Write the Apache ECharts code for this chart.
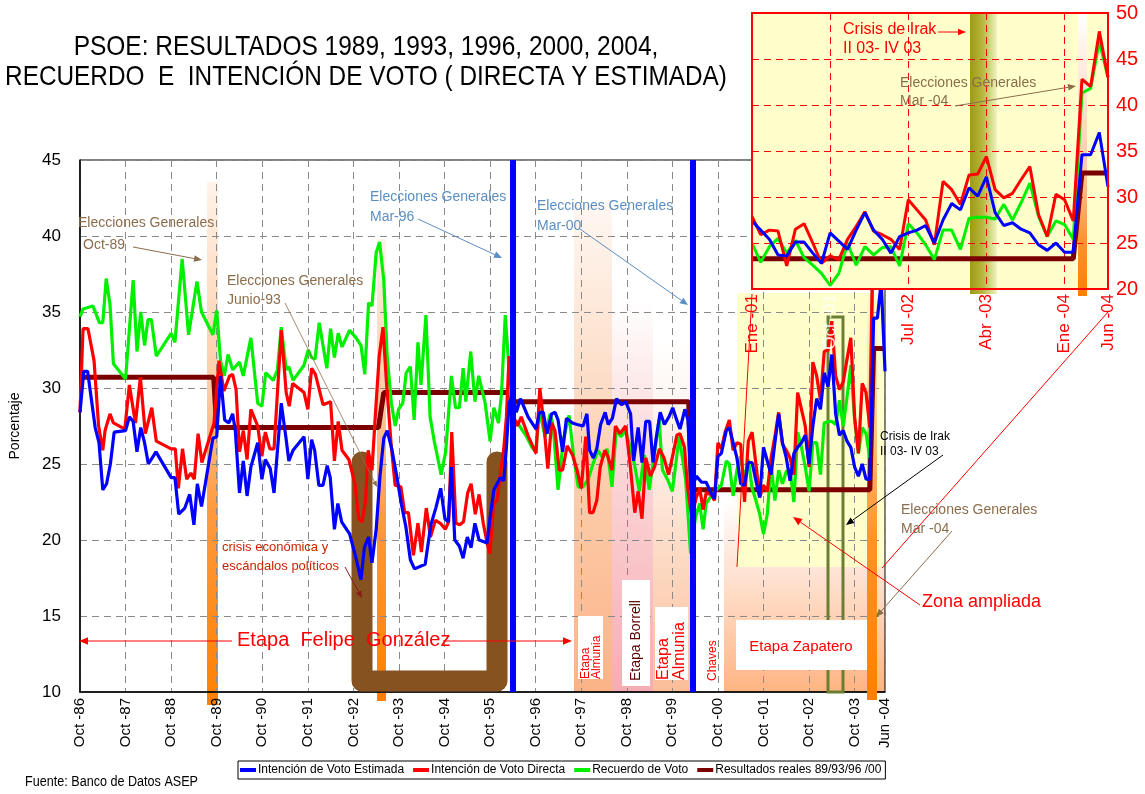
<!DOCTYPE html>
<html><head><meta charset="utf-8">
<script src="https://cdn.jsdelivr.net/npm/echarts/dist/echarts.min.js"></script>
<style>html,body{margin:0;padding:0;background:#fff;}#c{width:1145px;height:794px;}</style>
</head><body><div id="c"></div>
<script>
// ---------- DATA ----------
const mainTickLabels = ['Oct -86','Oct -87','Oct -88','Oct -89','Oct -90','Oct -91','Oct -92','Oct -93','Oct -94','Oct -95','Oct -96','Oct -97','Oct -98','Oct -99','Oct -00','Oct -01','Oct -02','Oct -03','Jun -04'];
const insetTickMonths = [0, 9, 18, 27, 36, 41];
const insetTickLabels = ['Ene -01','Oct -01','Jul -02','Abr -03','Ene -04','Jun -04'];
const seriesNames = ['Intención de Voto Estimada','Intención de Voto Directa','Recuerdo de Voto','Resultados reales 89/93/96 /00'];

// months since Oct-86, value (%)
const estimadaEarly = [[0,28.4],[1,31.1],[2,31.1],[4,27.4],[5,26.4],[6,23.3],[7,23.7],[8,25.0],[9,27.1],[12,27.2],[13,28.1],[14,27.8],[15,25.8],[16,27.4],[17,26.4],[18,25.0],[20,25.8],[24,24.1],[25,24.1],[26,21.7],[27.6,22.1],[28.9,23.0],[30,21.0],[30.9,23.7],[32,22.2],[35,26.7],[36,26.8],[37,30.8],[38.1,27.9],[39.2,27.7],[40.2,28.3],[40.9,27.2],[42,23.1],[43,25.2],[44,22.9],[45,24.8],[46.8,26.4],[47.9,24.0],[48.8,25.3],[50.1,24.7],[51.1,23.1],[53,29.0],[54.2,26.8],[55,25.2],[56.1,25.9],[59,26.8],[60,24.0],[61,26.6],[61.8,25.9],[62.9,23.6],[64,23.6],[65.1,24.9],[65.9,24.1],[67,20.7],[67.9,22.4],[68.9,21.2],[71,20.4],[72.7,18.8],[74,17.4],[74.9,19.5],[76,20.2],[76.9,18.5],[78,20.7],[79,24.2],[80,26.7],[80.9,27.2],[82.1,26.0],[83.5,24.1],[84.6,22.4],[85.8,20.9],[87,18.7],[88.1,18.1],[90.9,18.4],[92.4,21.0],[93.7,22.1],[95,23.4],[96.1,21.4],[97,21.2],[97.8,24.8],[98.7,20.0],[99.9,19.6],[100.9,18.8],[102,20.2],[103,19.5],[104,21.1],[105.1,20.0],[106.2,19.9],[107.2,19.8],[108,21.5],[109,23.3],[110.7,24.1],[111.6,23.9],[112.3,26.1],[113,29.0],[114,29.6],[114.9,28.4],[116,29.3],[118,28.1],[120.1,27.3],[121,28.4],[122,28.4],[123,27.0],[124.2,28.3],[125.1,28.4],[125.9,27.9],[127.1,25.8],[128.1,28.0],[129.7,27.7],[130.9,27.6],[132.5,27.5],[133.5,28.3],[134.2,25.9],[135.2,25.4],[136.1,26.0],[137.1,27.6],[138.3,28.4],[139.1,27.6],[140.2,28.0],[141.3,29.3],[142.6,28.9],[143.7,29.1],[145,28.3],[145.8,25.2],[147,27.4],[148,25.1],[149,27.8],[150,27.8],[150.9,25.1],[151.8,26.8],[152.8,28.4],[153.9,27.6],[155.1,28.1],[156.1,28.7],[157,28.0],[158,27.3],[159.3,28.6],[160.1,27.9],[161,23.3],[162.3,24.2],[163.7,23.8],[164.9,23.8],[166.2,23.1],[167.1,22.7],[168,25.5],[168.9,25.7],[170.2,27.2]];
const directaEarly = [[0,28.4],[0.8,33.9],[2.1,33.9],[3.7,31.8],[4.9,27.5],[6,25.9],[6.6,27.2],[7.9,28.3],[8.8,27.7],[11.8,27.3],[13,30.2],[14.6,27.7],[15.9,30.7],[17.2,27.0],[18.9,28.7],[20.1,26.5],[24,26.0],[25.1,26.0],[25.9,23.4],[27,26.0],[28.1,24.0],[29.2,24.4],[30.1,24.0],[31.1,27.0],[32.1,25.1],[35.3,27.7],[36.6,31.8],[37.9,29.8],[39.4,30.8],[40.2,30.9],[41.1,29.9],[42,25.8],[43,27.2],[44,25.3],[45,28.6],[46.8,27.5],[47.9,25.5],[48.8,27.1],[50,26.0],[51.1,26.0],[53,33.8],[54.3,29.7],[55.1,28.8],[56,30.3],[59,29.7],[60,28.6],[61,31.3],[62,30.9],[64,28.9],[66,29.1],[67,25.2],[68,27.8],[69,25.9],[70.8,25.3],[72.4,23.7],[73.4,21.4],[74.3,21.2],[75.2,22.6],[75.9,25.9],[76.9,24.6],[77.8,28.3],[78.8,32.1],[79.8,34.0],[80.7,30.4],[82,26.1],[83,23.6],[84.5,23.5],[85.5,21.8],[86.5,21.8],[87.8,19.0],[89,21.1],[89.9,19.2],[91.2,22.1],[92.3,20.2],[93.6,21.3],[94.9,21.1],[96.2,20.7],[97.1,21.2],[97.9,27.1],[99,21.1],[100,21.0],[101,21.2],[102.1,23.1],[103,23.7],[104.1,21.7],[105.1,23.0],[106.2,21.1],[107.2,19.8],[108,19.1],[108.9,22.4],[109.8,22.6],[111.6,26.0],[112.3,28.1],[113,32.1],[114.2,28.1],[115.2,27.5],[116.2,28.1],[118.1,26.8],[120.1,25.7],[121.1,30.0],[122.2,27.5],[123.2,24.7],[124.2,27.7],[125.1,27.2],[126.2,24.6],[127.1,24.6],[128.3,26.2],[129.7,25.6],[130.9,24.6],[132,23.4],[133.2,26.8],[134.2,21.8],[135.1,21.8],[136.1,22.6],[137,24.8],[138.2,25.9],[139,25.5],[140.1,24.6],[141,27.5],[142.2,27.0],[143.7,27.5],[145,24.7],[146.1,21.8],[147,23.2],[148,21.4],[149,25.4],[150.2,24.2],[151.3,24.8],[152.6,26.0],[153.8,25.4],[155,24.3],[156.3,25.8],[157.2,26.9],[158,27.0],[159.2,26.1],[160,23.5],[161.1,21.5],[162.3,22.8],[163.2,23.4],[164.1,22.0],[164.9,23.1],[166.2,23.0],[167.1,22.6],[168,26.4],[168.9,26.0],[169.9,27.1]];
const recuerdoEarly = [[0,34.7],[0.8,35.2],[3.4,35.4],[3.8,35.5],[5.1,34.3],[6,34.3],[6.9,37.2],[7.9,35.5],[8.8,31.6],[12,30.6],[14,37.1],[15,32.4],[16,35.0],[17,32.8],[17.9,34.5],[18.8,34.5],[20.1,32.1],[24,33.6],[25,33.0],[26.9,38.5],[28.6,33.5],[30.8,37.0],[32,35.0],[35,33.5],[36,35.1],[37,31.8],[38,30.8],[39,32.2],[40.2,31.2],[42,31.7],[43,30.8],[45,33.3],[46.8,29.0],[47.9,28.8],[48.9,31.0],[50.9,30.5],[52,31.2],[53,34.0],[54.3,31.2],[55,31.4],[56.1,30.5],[59,31.5],[60.1,32.5],[61,32.0],[61.9,31.9],[63,34.3],[65,31.3],[66,33.9],[67,32.0],[68,33.6],[69,32.7],[71,33.8],[72.7,33.3],[74,32.8],[75,30.9],[76,35.6],[76.9,35.4],[78,38.9],[78.9,39.6],[80,37.1],[80.9,32.1],[82,29.0],[83,27.5],[83.9,28.6],[85,29.0],[85.9,31.0],[87,31.4],[88,27.9],[89,33.0],[89.8,30.2],[91.1,34.8],[92.2,28.1],[93.3,26.5],[95.1,24.3],[96.3,25.8],[97.8,30.8],[98.9,28.7],[99.9,28.7],[100.9,31.3],[101.6,29.1],[102.9,32.4],[104,29.1],[105,30.8],[106.7,29.0],[108,26.5],[109,28.7],[110.2,27.7],[111,29.6],[112,34.8],[113,31.2],[114,27.7],[115,27.8],[116.3,27.3],[117.6,26.8],[119,26.1],[120,25.8],[121,28.5],[122.5,26.8],[123.8,28.3],[124.6,27.5],[125.9,23.3],[127.3,26.6],[128.8,28.2],[130,25.5],[131.2,23.5],[132.5,23.5],[133.8,24.0],[135.1,25.0],[136.4,25.9],[137.7,25.4],[138.8,26.0],[140.1,23.5],[141.2,27.2],[142.5,26.8],[143.6,27.2],[144.9,26.1],[146,25.0],[147.3,23.2],[148.6,25.6],[149.9,23.3],[151.2,25.6],[152.5,27.9],[153.4,24.6],[154.7,24.0],[156,23.2],[157.8,26.8],[159.5,24.0],[160.8,19.1],[162.1,21.5],[163.2,22.4],[164.1,20.7],[164.9,22.4],[166.2,22.9],[167.6,23.3],[168.9,23.6],[170.2,25.2]];
const resultadosSteps = [[0,30.7],[35.2,30.7],[36,27.4],[78.6,27.4],[80,29.7],[113,29.7],[114,29.1],[160.3,29.1],[161,23.3],[208,23.3],[209,32.6],[212,32.6]];

// monthly values from Ene-01 (index 0) to Jun-04 (index 41), also drawn in the main chart
const insetStartMonth = 171;
const insetEstimada = [27.4,26.4,25.4,23.7,23.6,25.1,25.1,23.9,22.8,26.1,25.2,24.3,26.4,28.3,26.4,25.4,23.9,25.7,26.1,26.4,26.9,25.0,27.5,29.3,28.6,31.0,30.1,32.2,28.3,26.9,27.2,26.5,26.1,24.8,24.2,25.0,24.0,24.0,34.6,34.6,37.0,31.1];
const insetDirecta = [27.9,25.9,26.4,26.3,22.5,26.5,27.1,25.0,22.8,23.6,23.2,25.4,26.8,28.4,26.3,25.9,25.4,24.3,29.7,28.6,27.5,24.8,31.7,30.8,29.2,32.4,32.5,34.4,30.8,29.9,30.4,31.9,33.3,28.1,25.7,30.3,29.7,27.4,42.8,42.0,48.0,43.0];
const insetRecuerdo = [25.0,22.9,24.6,25.5,23.9,25.3,23.4,22.6,21.7,20.4,21.7,25.0,22.6,24.6,23.7,24.5,24.6,22.5,27.1,26.1,24.8,23.2,26.4,26.4,24.3,27.7,27.8,27.8,27.6,29.2,27.5,29.4,31.5,27.9,25.7,27.4,27.0,25.4,41.3,41.8,46.9,43.0];
const insetResultados = [[0,23.3],[37,23.3],[38,32.6],[41,32.6]];
const electionLineMonths = [114, 161.5];

// ---------- BUILD ----------
const SANS = "'Liberation Sans', Arial, sans-serif";
const toMain = arr => arr.map((v, i) => [insetStartMonth + i, v]);
const mainEst = estimadaEarly.concat(toMain(insetEstimada));
const mainDir = directaEarly.concat(toMain(insetDirecta));
const mainRec = recuerdoEarly.concat(toMain(insetRecuerdo));
const idx = a => a.map((v, i) => [i, v]);

const C_BLUE = '#0000FF', C_RED = '#FF0000', C_GREEN = '#00F000', C_RES = '#7B0000';
const BROWN_T = '#8C6D4B', STEEL = '#5B8EC2';

function lg(stops, horiz) {
  return {type: 'linear', x: 0, y: 0, x2: horiz ? 1 : 0, y2: horiz ? 0 : 1,
    colorStops: stops.map(s => ({offset: s[0], color: s[1]}))};
}
function rect(x, y, w, h, fill, z, extra) {
  return Object.assign({type: 'rect', shape: {x, y, width: w, height: h}, style: {fill}, z: z, silent: true}, extra || {});
}
function txt(x, y, text, size, color, o) {
  o = o || {};
  return {type: 'text', x, y, rotation: o.rot || 0, scaleX: o.sx || 1, z: o.z || 30, silent: true,
    style: {text, fontSize: size, fill: color, fontFamily: o.font || SANS, fontWeight: o.bold ? 'bold' : 'normal',
      textAlign: o.align || 'left', textVerticalAlign: 'middle'}};
}
function arrow(x1, y1, x2, y2, color, lw, hs, z) {
  const a = Math.atan2(y2 - y1, x2 - x1);
  const bx = x2 - hs * Math.cos(a), by = y2 - hs * Math.sin(a);
  const px = -Math.sin(a) * hs * 0.42, py = Math.cos(a) * hs * 0.42;
  return [
    {type: 'line', shape: {x1, y1, x2: bx, y2: by}, style: {stroke: color, lineWidth: lw}, z: z || 30, silent: true},
    {type: 'polygon', shape: {points: [[x2, y2], [bx + px, by + py], [bx - px, by - py]]}, style: {fill: color}, z: z || 30, silent: true}
  ];
}
function line(x1, y1, x2, y2, color, lw, z) {
  return {type: 'line', shape: {x1, y1, x2, y2}, style: {stroke: color, lineWidth: lw}, z: z || 30, silent: true};
}

const g = [];
// title
g.push(txt(366, 47, 'PSOE: RESULTADOS 1989, 1993, 1996, 2000, 2004,', 28, '#000', {align: 'center', sx: 0.875}));
g.push(txt(366, 77, 'RECUERDO  E  INTENCIÓN DE VOTO ( DIRECTA Y ESTIMADA)', 28, '#000', {align: 'center', sx: 0.87}));
g.push(txt(25, 782, 'Fuente: Banco de Datos ASEP', 14, '#000', {sx: 0.9}));

// background bands (below grid lines)
g.push(rect(574, 205, 38, 487, lg([[0, '#FFF7F2'], [0.3, '#FDE2CF'], [0.6, '#FCCBA9'], [1, '#FBB386']]), -1));
g.push(rect(612, 300, 41, 392, lg([[0, '#FFFFFF'], [0.3, '#FCE0E0'], [1, '#F6ACB3']]), -1));
g.push(rect(653, 340, 42, 352, lg([[0, '#FFFFFF'], [0.35, '#FEEDE3'], [1, '#FBBE98']]), -1));
g.push(rect(724, 500, 13, 67, lg([[0, '#FFFFFF'], [1, '#FFE3D3']]), -1));
g.push(rect(737, 293, 148, 275, '#FFFFCC', -1));
g.push(rect(724, 567, 161, 125, lg([[0, '#FFE6D8'], [1, '#FFB482']]), -1));
// election bars
g.push(rect(207, 182, 11, 523, lg([[0, '#FFF3EA'], [0.4, '#FDCBA4'], [0.62, '#FF9B40'], [1, '#FF8000']]), -1));
g.push(rect(377, 239, 9, 462, lg([[0, '#FFF3EA'], [0.35, '#FDCBA4'], [0.6, '#FF9B40'], [1, '#FF8000']]), -1));
g.push(rect(867, 300, 10, 400, lg([[0, 'rgba(255,220,170,0.2)'], [0.4, '#FFB464'], [0.6, '#FF9226'], [1, '#FF8000']]), 1));
// brown U (crisis)
g.push({type: 'polyline', shape: {points: [[362, 462], [362, 681], [497, 681], [497, 462]]},
  style: {stroke: '#86521F', lineWidth: 21, lineJoin: 'round', lineCap: 'round', fill: null}, z: 1, silent: true});
// olive rect (Irak crisis in main)
g.push({type: 'rect', shape: {x: 828, y: 317, width: 15, height: 375}, style: {fill: null, stroke: '#6B7F33', lineWidth: 3}, z: 1, silent: true});

// white label boxes & stage labels
g.push(rect(578, 616, 25, 63, '#FFFFFF', 4));
g.push(txt(586, 679, 'Etapa', 12, C_RED, {rot: Math.PI / 2, z: 31}));
g.push(txt(597, 679, 'Almunia', 12, C_RED, {rot: Math.PI / 2, z: 31}));
g.push(rect(622, 580, 28, 106, '#FFFFFF', 4));
g.push(txt(636, 681, 'Etapa Borrell', 14, '#5A0000', {rot: Math.PI / 2, z: 31}));
g.push(rect(655, 607, 33, 73, '#FFFFFF', 4));
g.push(txt(664, 680, 'Etapa', 16, C_RED, {rot: Math.PI / 2, z: 31}));
g.push(txt(680, 680, 'Almunia', 16, C_RED, {rot: Math.PI / 2, z: 31}));
g.push(txt(713, 681, 'Chaves', 12, C_RED, {rot: Math.PI / 2, z: 31}));
g.push(rect(736, 620, 131, 50, '#FFFFFF', 4));
g.push(txt(801, 647, 'Etapa Zapatero', 15, C_RED, {align: 'center', z: 31}));

// annotations main
g.push(txt(78, 223, 'Elecciones Generales', 14, BROWN_T));
g.push(txt(83, 245, 'Oct-89', 14, BROWN_T));
g.push(...arrow(133, 247, 202, 260, BROWN_T, 1, 8));
g.push(txt(227, 281, 'Elecciones Generales', 14, BROWN_T));
g.push(txt(227, 300, 'Junio-93', 14, BROWN_T));
g.push(...arrow(285, 303, 377, 487, BROWN_T, 0.8, 6));
g.push(txt(222, 547, 'crisis económica y', 13, '#CC2200'));
g.push(txt(222, 566, 'escándalos políticos', 13, '#CC2200'));
g.push(...arrow(345, 567, 362, 598, '#8B1A1A', 1, 7));
g.push(txt(370, 197, 'Elecciones Generales', 14, STEEL));
g.push(txt(370, 217, 'Mar-96', 14, STEEL));
g.push(...arrow(418, 219, 502, 258, STEEL, 1, 8));
g.push(txt(537, 206, 'Elecciones Generales', 14, STEEL));
g.push(txt(537, 226, 'Mar-00', 14, STEEL));
g.push(...arrow(580, 229, 688, 305, STEEL, 1, 8));
g.push(txt(237, 640, 'Etapa  Felipe  González', 20, C_RED));
g.push(...arrow(232, 641, 79, 641, C_RED, 1, 9));
g.push(...arrow(443, 641, 572, 641, C_RED, 1, 9));
g.push(txt(880, 437, 'Crisis de Irak', 12, '#000'));
g.push(txt(880, 452, 'II 03- IV 03', 12, '#000'));
g.push(...arrow(943, 455, 846, 525, '#000', 1, 8));
g.push(txt(901, 510, 'Elecciones Generales', 14, BROWN_T));
g.push(txt(901, 529, 'Mar -04', 14, BROWN_T));
g.push(...arrow(952, 531, 876, 617, BROWN_T, 1, 8));
g.push(txt(922, 602, 'Zona ampliada', 18, C_RED));
g.push(...arrow(920, 605, 793, 517, C_RED, 1, 9));
g.push(line(737, 567, 752, 294, C_RED, 1));
g.push(line(882, 568, 1108, 312, C_RED, 1));

// inset
g.push(rect(752, 13, 356, 276, '#FFFFCC', 5));
g.push(rect(970, 13, 27, 281, lg([[0, '#9E9B0E'], [0.45, '#B5B53C'], [1, '#EEF4C0']], true), 5.5));
g.push(rect(1078, 13, 9, 283, lg([[0, '#FFFFFF'], [0.55, '#FBCBA6'], [0.8, '#FF9232'], [1, '#FF7F00']]), 5.5));
g.push({type: 'rect', shape: {x: 752, y: 13, width: 356, height: 276}, style: {fill: null, stroke: C_RED, lineWidth: 2}, z: 9, silent: true});
g.push(txt(843, 30, 'Crisis de Irak', 16, C_RED, {z: 31}));
g.push(txt(843, 49, 'II 03- IV 03', 16, C_RED, {z: 31}));
g.push(...arrow(938, 32, 966, 32, C_RED, 1, 8, 31));
g.push(txt(900, 83, 'Elecciones Generales', 14, BROWN_T, {z: 31}));
g.push(txt(900, 101, 'Mar -04', 14, BROWN_T, {z: 31}));
g.push(...arrow(955, 106, 1076, 86, BROWN_T, 1, 8, 31));

const dash = [7, 5];
const option = {
  animation: false,
  backgroundColor: '#fff',
  legend: {
    data: seriesNames, left: 238, top: 761, orient: 'horizontal',
    itemWidth: 16, itemHeight: 4, itemGap: 9, icon: 'rect',
    borderColor: '#000', borderWidth: 1, padding: [3, 4, 3, 2],
    textStyle: {fontSize: 12, fontFamily: SANS, color: '#000', padding: [0, 0, 0, -3]}
  },
  grid: [
    {left: 77, top: 160, width: 808, height: 532, show: true, borderColor: '#000', borderWidth: 1, backgroundColor: 'rgba(0,0,0,0)'},
    {left: 752, top: 13, width: 356, height: 276, show: false}
  ],
  xAxis: [
    {gridIndex: 0, type: 'value', min: 0, max: 212, interval: 12,
      axisLine: {lineStyle: {color: '#000', width: 1.5}}, axisTick: {show: false},
      axisLabel: {rotate: 90, fontSize: 15, color: '#000', fontFamily: SANS, margin: 6, showMaxLabel: true, showMinLabel: true,
        formatter: v => v >= 212 ? mainTickLabels[mainTickLabels.length - 1] : mainTickLabels[Math.round(v / 12)]},
      splitLine: {show: true, lineStyle: {color: '#8a8a8a', type: dash, width: 1}}},
    {gridIndex: 1, type: 'value', min: 0, max: 41, interval: 9, z: 6,
      axisLine: {show: false}, axisTick: {show: false},
      axisLabel: {rotate: 90, fontSize: 17, color: C_RED, fontFamily: SANS, margin: 5, showMaxLabel: true, showMinLabel: true,
        rich: {w: {color: 'rgba(255,255,255,0.9)', fontSize: 17, fontFamily: SANS}},
        formatter: v => { const i = insetTickMonths.indexOf(v); if (i < 0) return ''; return i === 1 ? '{w|' + insetTickLabels[i] + '}' : insetTickLabels[i]; }},
      splitLine: {show: true, lineStyle: {color: C_RED, type: dash, width: 1}}}
  ],
  yAxis: [
    {gridIndex: 0, type: 'value', min: 10, max: 45, interval: 5,
      axisLine: {show: true, lineStyle: {color: '#000', width: 1.5}}, axisTick: {show: false},
      axisLabel: {fontSize: 17, color: '#000', fontFamily: SANS, margin: 19},
      splitLine: {show: true, lineStyle: {color: '#8a8a8a', type: dash, width: 1}},
      name: 'Porcentaje', nameLocation: 'middle', nameGap: 58, nameTextStyle: {fontSize: 14, color: '#000', fontFamily: SANS}},
    {gridIndex: 1, type: 'value', min: 20, max: 50, interval: 5, position: 'right', z: 6,
      axisLine: {show: false}, axisTick: {show: false},
      axisLabel: {fontSize: 20, color: C_RED, fontFamily: SANS, margin: 8},
      splitLine: {show: true, lineStyle: {color: C_RED, type: dash, width: 1}}}
  ],
  series: [
    {name: seriesNames[3], type: 'line', xAxisIndex: 0, yAxisIndex: 0, data: resultadosSteps, symbol: 'none',
      lineStyle: {color: C_RES, width: 5}, itemStyle: {color: C_RES}, z: 2},
    {name: seriesNames[2], type: 'line', xAxisIndex: 0, yAxisIndex: 0, data: mainRec, symbol: 'none',
      lineStyle: {color: C_GREEN, width: 3.2}, itemStyle: {color: C_GREEN}, z: 2},
    {name: seriesNames[1], type: 'line', xAxisIndex: 0, yAxisIndex: 0, data: mainDir, symbol: 'none',
      lineStyle: {color: C_RED, width: 3.2}, itemStyle: {color: C_RED}, z: 2},
    {name: seriesNames[0], type: 'line', xAxisIndex: 0, yAxisIndex: 0, data: mainEst, symbol: 'none',
      lineStyle: {color: C_BLUE, width: 3.2}, itemStyle: {color: C_BLUE}, z: 2,
      markLine: {silent: true, symbol: ['none', 'none'], label: {show: false},
        lineStyle: {color: C_BLUE, width: 6, type: 'solid'},
        data: electionLineMonths.map(m => ({xAxis: m}))}},
    {name: seriesNames[3], type: 'line', xAxisIndex: 1, yAxisIndex: 1, data: insetResultados, symbol: 'none',
      lineStyle: {color: C_RES, width: 5}, itemStyle: {color: C_RES}, z: 8},
    {name: seriesNames[2], type: 'line', xAxisIndex: 1, yAxisIndex: 1, data: idx(insetRecuerdo), symbol: 'none',
      lineStyle: {color: C_GREEN, width: 3}, itemStyle: {color: C_GREEN}, z: 8},
    {name: seriesNames[1], type: 'line', xAxisIndex: 1, yAxisIndex: 1, data: idx(insetDirecta), symbol: 'none',
      lineStyle: {color: C_RED, width: 3}, itemStyle: {color: C_RED}, z: 8},
    {name: seriesNames[0], type: 'line', xAxisIndex: 1, yAxisIndex: 1, data: idx(insetEstimada), symbol: 'none',
      lineStyle: {color: C_BLUE, width: 3}, itemStyle: {color: C_BLUE}, z: 8}
  ],
  graphic: {elements: g}
};
const chart = echarts.init(document.getElementById('c'));
chart.setOption(option);
</script></body></html>
